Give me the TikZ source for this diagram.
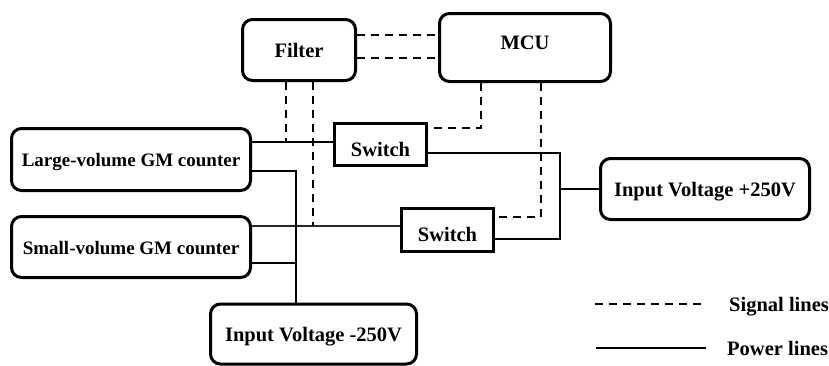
\documentclass[tikz,border=0pt]{standalone}
\usepackage{fontspec}
\setmainfont{Liberation Serif}
\begin{document}
\begin{tikzpicture}[x=1pt, y=-1pt,
        box/.style={draw, rounded corners=10pt, line width=3pt, font=\fontsize{20.5}{23}\selectfont\bfseries, text height=14pt, text depth=0pt},
        gmbox/.style={box, font=\fontsize{19}{22}\selectfont\bfseries, minimum width=239pt},
        swbox/.style={draw, line width=3pt, font=\fontsize{20.5}{23}\selectfont\bfseries, text height=23pt, text depth=0pt, minimum width=92pt},
        legend/.style={inner sep=0pt, font=\fontsize{20.5}{23}\selectfont\bfseries, text height=14pt, text depth=0pt},
        signal/.style={line width=2pt, dash pattern=on 8pt off 6pt},
        power/.style={line width=2pt}]
    \useasboundingbox (0,0) rectangle (829,365);
    \node[box, minimum width=113pt, minimum height=61pt] (filter) at (299,50) {Filter};
    \node[box, minimum width=171pt, minimum height=68pt, text depth=11pt] (mcu) at (525,47.5) {MCU};
    \node[gmbox, minimum height=62pt] (lv) at (131,159.5) {Large-volume GM counter};
    \node[gmbox, minimum height=61pt] (sv) at (131,247) {Small-volume GM counter};
    \node[swbox, minimum height=42pt] (sw1) at (380.5,144.5) {Switch};
    \node[swbox, minimum height=43pt] (sw2) at (447.5,230) {Switch};
    \node[box, minimum width=209pt, minimum height=61pt] (vp) at (705,189) {Input Voltage +250V};
    \node[box, minimum width=206pt, minimum height=60pt] (vm) at (313.5,334) {Input Voltage -250V};
    \coordinate (bus) at ([xshift=-17.5pt]vm.north);
    \coordinate (rail) at ([xshift=-39.5pt]vp.west);
    \coordinate (sw1in) at ([yshift=2.5pt]sw1.west);
    \coordinate (sw2in) at ([yshift=4pt]sw2.west);
    \coordinate (svp) at ([yshift=-16pt]sv.east);
    \coordinate (f1) at ([xshift=-13pt]filter.south);
    \coordinate (f2) at ([xshift=14pt]filter.south);
    % power lines
    \draw[power] (sw1in -| lv.east) -- (sw1in);
    \draw[power, line width=1.4pt, black!85] (sw2in -| sv.east) -- (sw2in);
    \draw[power] ([yshift=-11.5pt]lv.east) -| (bus);
    \draw[power] (svp) -- (svp -| bus);
    \draw[power] ([yshift=-8.5pt]sw1.east) -| (rail) |- ([yshift=-9pt]sw2.east);
    \draw[power] (rail) -- (vp.west);
    % signal lines
    \draw[signal] ([yshift=15pt]filter.east) -- ([yshift=15pt]filter.east -| mcu.west);
    \draw[signal] ([yshift=-8pt]filter.east) -- ([yshift=-8pt]filter.east -| mcu.west);
    \draw[signal] (f1) -- (f1 |- sw1in);
    \draw[signal] (f2) -- (f2 |- sw2in);
    \draw[signal] ([xshift=-44pt]mcu.south) |- ([yshift=16.5pt]sw1.east);
    \draw[signal] ([xshift=16pt]mcu.south) |- ([yshift=13pt]sw2.east);
    % legend
    \node[legend, anchor=west] (sig) at (729,304) {Signal lines};
    \node[legend, anchor=west] (pow) at (727,348) {Power lines};
    \draw[signal] ([xshift=-134pt]sig.west) -- ([xshift=-25pt]sig.west);
    \draw[power] ([xshift=-131pt]pow.west) -- ([xshift=-21pt]pow.west);
\end{tikzpicture}
\end{document}
